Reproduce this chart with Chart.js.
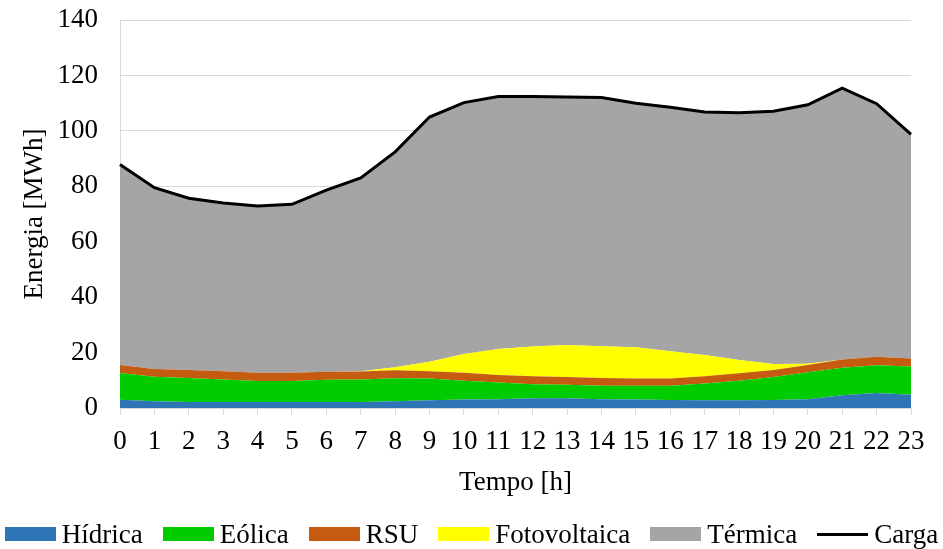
<!DOCTYPE html>
<html>
<head>
<meta charset="utf-8">
<script src="https://cdn.jsdelivr.net/npm/chart.js@4.4.1/dist/chart.umd.min.js"></script>
<style>
  html, body { margin: 0; padding: 0; background: #fff; }
  #wrap { width: 943px; height: 549px; position: relative; }
  #legend {
    position: absolute; left: 0; top: 518px; width: 943px; height: 32px;
    display: flex; align-items: center; justify-content: center;
    font-family: 'Liberation Serif', 'Times New Roman', serif; font-size: 27px; color: #000;
  }
  .item { display: flex; align-items: center; margin: 0 10px; white-space: nowrap; }
  .swatch { width: 51px; height: 14px; margin-right: 6px; }
  .swatch.line { height: 3px; }
</style>
</head>
<body>
<div id="wrap"><canvas id="c"></canvas><div id="legend"></div></div>
<script>
// Hours of the day
const hours = ['0','1','2','3','4','5','6','7','8','9','10','11','12','13','14','15','16','17','18','19','20','21','22','23'];

// Hourly energy by source [MWh]
const hidrica = [3.0,2.4,2.2,2.2,2.2,2.2,2.2,2.2,2.4,2.8,3.1,3.2,3.5,3.5,3.2,3.1,2.9,2.8,2.8,2.9,3.2,4.6,5.4,4.8];
const eolica = [9.6,8.9,8.6,8.1,7.5,7.5,8.0,8.1,8.3,7.8,6.75,6.0,5.1,4.9,4.8,4.9,5.1,6.0,7.05,8.3,9.7,9.9,10.0,10.2];
const rsu = [2.9,2.75,2.9,3.0,3.0,3.0,2.9,2.9,2.9,2.7,2.85,2.7,2.9,2.8,2.8,2.6,2.6,2.7,2.65,2.5,2.6,3.0,3.1,2.9];
const fotovoltaica = [0,0,0,0,0,0,0,0.1,1.1,3.4,6.8,9.4,10.7,11.5,11.5,11.3,9.9,7.6,4.8,2.2,0.5,0,0,0];
const termica = [72.4,65.45,62.0,60.7,60.2,60.8,65.5,69.7,77.7,88.3,90.7,91.1,90.2,89.5,89.7,88.1,88.0,87.7,89.2,91.2,93.4,97.9,91.3,80.8];

// Hourly demand [MWh]
const carga = [87.9,79.5,75.7,74.0,72.9,73.5,78.6,83.0,92.4,105.0,110.2,112.4,112.4,112.2,112.0,110.0,108.5,106.8,106.5,107.1,109.4,115.4,109.8,98.7];

// Y axis ticks
const yTicks = [0,20,40,60,80,100,120,140];

const FONT = 'Liberation Serif, Times New Roman, serif';
const FS = 27;

function area(label, data, color, fill) {
  return {
    label, data, fill,
    backgroundColor: color,
    borderColor: color,
    borderWidth: 0,
    pointRadius: 0,
    tension: 0,
    stack: 'mix',
    order: 1
  };
}

const datasets = [
  area('Hídrica', hidrica, '#2e75b6', 'origin'),
  area('Eólica', eolica, '#00cc00', '-1'),
  area('RSU', rsu, '#c55a11', '-1'),
  area('Fotovoltaica', fotovoltaica, '#ffff00', '-1'),
  area('Térmica', termica, '#a5a5a5', '-1'),
  {
    label: 'Carga', data: carga, fill: false,
    borderColor: '#000000', backgroundColor: '#000000',
    borderWidth: 3, pointRadius: 0, tension: 0,
    stack: 'load', order: 0
  }
];

// Keep tick labels from adding extra room around the plot area
function noEdgePadding(scale) {
  scale.paddingTop = 0;
  scale.paddingBottom = 0;
  scale.paddingLeft = 0;
  scale.paddingRight = 0;
}

const chart = new Chart(document.getElementById('c'), {
  type: 'line',
  data: { labels: hours, datasets },
  options: {
    responsive: true,
    maintainAspectRatio: false,
    animation: false,
    layout: { padding: { left: 0, right: 32, top: 20, bottom: 50 } },
    plugins: {
      tooltip: { enabled: false },
      legend: { display: false }
    },
    scales: {
      x: {
        offset: false,
        grid: { display: true, drawOnChartArea: false, drawTicks: true, tickLength: 7, color: '#d9d9d9' },
        border: { display: true, color: '#d9d9d9' },
        ticks: { font: { family: FONT, size: FS }, color: '#000', padding: 11, maxRotation: 0, autoSkip: false },
        title: { display: true, text: 'Tempo [h]', font: { family: FONT, size: FS }, color: '#000', padding: { top: 4, bottom: 0 } },
        afterFit(scale) { scale.height = 91; noEdgePadding(scale); }
      },
      y: {
        stacked: true,
        min: 0, max: 140,
        afterBuildTicks(scale) { scale.ticks = yTicks.map(v => ({ value: v })); },
        grid: { color: '#d9d9d9', drawTicks: false, lineWidth: 1 },
        border: { display: true, color: '#d9d9d9' },
        ticks: { font: { family: FONT, size: FS }, color: '#000', padding: 22 },
        title: { display: true, text: 'Energia [MWh]', font: { family: FONT, size: FS }, color: '#000', padding: { top: 19, bottom: 0 } },
        afterFit(scale) { scale.width = 120; noEdgePadding(scale); }
      }
    }
  }
});

// Legend built from the chart's datasets
const legend = document.getElementById('legend');
chart.data.datasets.forEach(ds => {
  const item = document.createElement('div');
  item.className = 'item';
  const sw = document.createElement('span');
  sw.className = 'swatch' + (ds.fill === false ? ' line' : '');
  sw.style.background = ds.fill === false ? ds.borderColor : ds.backgroundColor;
  const txt = document.createElement('span');
  txt.textContent = ds.label;
  item.appendChild(sw);
  item.appendChild(txt);
  legend.appendChild(item);
});
</script>
</body>
</html>
